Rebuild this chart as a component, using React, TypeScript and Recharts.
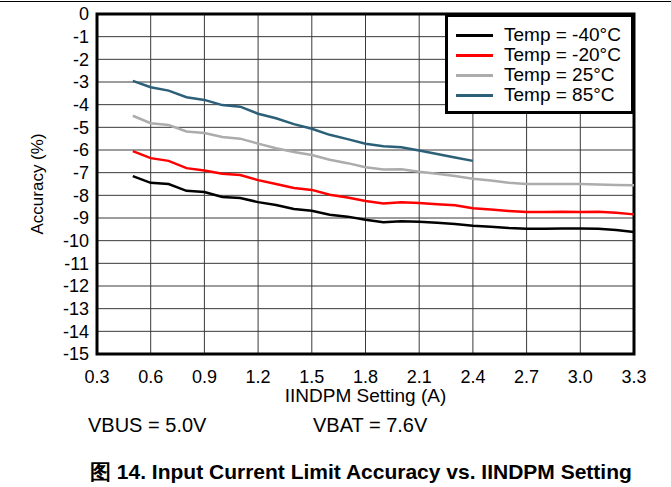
import { CartesianGrid, Legend, Line, LineChart, ReferenceArea, XAxis, YAxis } from "recharts";

const FONT = '"Liberation Sans", Arial, sans-serif';

// IINDPM setting (A)
const currents = [
  0.5, 0.6, 0.7, 0.8, 0.9, 1.0, 1.1, 1.2, 1.3, 1.4, 1.5, 1.6, 1.7, 1.8, 1.9, 2.0, 2.1, 2.2, 2.3, 2.4, 2.5,
  2.6, 2.7, 2.8, 2.9, 3.0, 3.1, 3.2, 3.3,
];

// accuracy (%) per temperature
const tempM40 = [
  -7.15, -7.45, -7.5, -7.8, -7.85, -8.07, -8.12, -8.3, -8.43, -8.6, -8.68, -8.86, -8.94, -9.08, -9.19, -9.14,
  -9.17, -9.21, -9.26, -9.34, -9.39, -9.44, -9.47, -9.47, -9.46, -9.46, -9.47, -9.53, -9.62,
];
const tempM20 = [
  -6.05, -6.36, -6.48, -6.8, -6.9, -7.05, -7.1, -7.33, -7.5, -7.68, -7.76, -7.97, -8.1, -8.25, -8.36, -8.3,
  -8.34, -8.39, -8.44, -8.57, -8.63, -8.69, -8.74, -8.74, -8.72, -8.74, -8.72, -8.77, -8.84,
];
const temp25 = [
  -4.49, -4.82, -4.9, -5.18, -5.25, -5.43, -5.5, -5.72, -5.92, -6.09, -6.22, -6.43, -6.58, -6.76, -6.86, -6.85,
  -6.96, -7.05, -7.15, -7.27, -7.35, -7.44, -7.5, -7.5, -7.5, -7.5, -7.52, -7.54, -7.55,
];
const temp85 = [
  -2.95, -3.23, -3.38, -3.67, -3.79, -4.02, -4.09, -4.4, -4.6, -4.86, -5.06, -5.33, -5.52, -5.72, -5.83, -5.88,
  -6.02, -6.18, -6.33, -6.48,
];

const xTicks = [0.3, 0.6, 0.9, 1.2, 1.5, 1.8, 2.1, 2.4, 2.7, 3.0, 3.3];
const yTicks = [0, -1, -2, -3, -4, -5, -6, -7, -8, -9, -10, -11, -12, -13, -14, -15];

const series = [
  { key: "m40", name: "Temp = -40°C", color: "#000000" },
  { key: "m20", name: "Temp = -20°C", color: "#ff0000" },
  { key: "t25", name: "Temp = 25°C", color: "#acacac" },
  { key: "t85", name: "Temp = 85°C", color: "#2c5f78" },
];

const data = currents.map((a, i) => ({
  a,
  m40: tempM40[i],
  m20: tempM20[i],
  t25: temp25[i],
  t85: temp85[i],
}));

function LegendBox() {
  return (
    <div
      style={{
        boxSizing: "border-box",
        width: 189,
        height: 100,
        border: "3px solid #000",
        background: "#fff",
        padding: "8px 0 0 8px",
        fontFamily: FONT,
        fontSize: 19,
      }}
    >
      {series.map((s) => (
        <div key={s.key} style={{ display: "flex", alignItems: "center", height: 20 }}>
          <span style={{ display: "inline-block", width: 37, height: 3, background: s.color, marginRight: 11 }} />
          <span style={{ lineHeight: "20px", whiteSpace: "nowrap" }}>{s.name}</span>
        </div>
      ))}
    </div>
  );
}

export default function App() {
  return (
    <div style={{ position: "absolute", left: 0, top: 0, width: 671, height: 487, background: "#fff", fontFamily: FONT }}>
      <div style={{ position: "absolute", left: 0, top: 1, width: 671, height: 1, background: "#000" }} />
      <LineChart width={671} height={487} data={data} margin={{ top: 14, right: 37, bottom: 103, left: 0 }}>
        <CartesianGrid stroke="#3a3a3a" strokeWidth={1} />
        <XAxis
          dataKey="a"
          type="number"
          domain={[0.3, 3.3]}
          ticks={xTicks}
          tickFormatter={(v: number) => v.toFixed(1)}
          tickLine={false}
          axisLine={false}
          tickMargin={10}
          height={30}
          tick={{ fill: "#000", fontSize: 18, fontFamily: FONT }}
          label={{
            value: "IINDPM Setting (A)",
            position: "bottom",
            offset: 5,
            style: { fill: "#000", fontSize: 19, fontFamily: FONT },
          }}
        />
        <YAxis
          type="number"
          domain={[-15, 0]}
          ticks={yTicks}
          interval={0}
          tickLine={false}
          axisLine={false}
          width={97}
          tick={{ fill: "#000", fontSize: 18, fontFamily: FONT }}
          label={{
            value: "Accuracy (%)",
            angle: -90,
            position: "center",
            dx: -12,
            style: { fill: "#000", fontSize: 17, fontFamily: FONT, textAnchor: "middle" },
          }}
        />
        <ReferenceArea x1={0.3} x2={3.3} y1={-15} y2={0} fill="none" stroke="#000" strokeWidth={3} />
        {series.map((s) => (
          <Line
            key={s.key}
            type="linear"
            dataKey={s.key}
            name={s.name}
            stroke={s.color}
            strokeWidth={2.5}
            dot={false}
            activeDot={false}
            isAnimationActive={false}
          />
        ))}
        <Legend
          layout="vertical"
          align="center"
          verticalAlign="middle"
          content={() => <LegendBox />}
          wrapperStyle={{ left: 445, top: 14, width: 189, height: 100 }}
        />
      </LineChart>
      <div style={{ position: "absolute", left: 88, top: 414, fontSize: 20, whiteSpace: "nowrap" }}>VBUS = 5.0V</div>
      <div style={{ position: "absolute", left: 313, top: 414, fontSize: 20, whiteSpace: "nowrap" }}>VBAT = 7.6V</div>
      <div style={{ position: "absolute", left: 90, top: 458, fontSize: 21, fontWeight: "bold", whiteSpace: "nowrap" }}>
        图 14. Input Current Limit Accuracy vs. IINDPM Setting
      </div>
    </div>
  );
}
